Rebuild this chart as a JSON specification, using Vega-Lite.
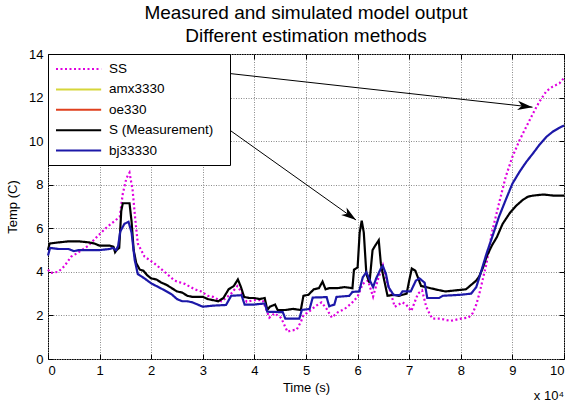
{
  "$schema": "https://vega.github.io/schema/vega-lite/v6.json",
  "width": 516,
  "height": 305,
  "autosize": {"type": "none"},
  "padding": {"left": 48, "top": 54, "right": 5, "bottom": 43},
  "background": "white",
  "title": {
    "text": ["Measured and simulated model output", "Different estimation methods"],
    "fontSize": 19,
    "font": "Liberation Sans",
    "fontWeight": "normal",
    "color": "black",
    "lineHeight": 22.6,
    "anchor": "middle",
    "baseline": "alphabetic",
    "offset": -13
  },
  "config": {
    "view": {"stroke": "black", "strokeWidth": 1},
    "axis": {
      "domain": false,
      "grid": true,
      "gridColor": "#8a8a8a",
      "gridDash": [1, 1.5],
      "gridWidth": 1,
      "tickColor": "black",
      "tickSize": -5,
      "labelFont": "Liberation Sans",
      "labelFontSize": 13,
      "labelColor": "black",
      "titleFont": "Liberation Sans",
      "titleFontSize": 13,
      "titleFontWeight": "normal",
      "titleColor": "black"
    },
    "legend": {
      "orient": "none",
      "legendX": 0,
      "legendY": 0,
      "strokeColor": "black",
      "fillColor": "white",
      "padding": 7,
      "cornerRadius": 0,
      "labelFont": "Liberation Sans",
      "labelFontSize": 13.5,
      "labelColor": "black",
      "labelOffset": 38,
      "symbolType": "M-1,0H5.45",
      "symbolSize": 196,
      "symbolStrokeWidth": 2,
      "symbolFillColor": "transparent",
      "rowPadding": 5.4,
      "labelLimit": 300,
      "titleOrient": "right",
      "titleFont": "Liberation Sans",
      "titleFontSize": 7,
      "titleColor": "white",
      "titlePadding": 3
    }
  },
  "datasets": {
    "lines": [
      {"s":"SS","t":0.0,"v":4.1},{"s":"SS","t":0.05,"v":3.95},{"s":"SS","t":0.2,"v":4.0},{"s":"SS","t":0.32,"v":4.27},{"s":"SS","t":0.45,"v":4.7},{"s":"SS","t":0.58,"v":4.88},{"s":"SS","t":0.77,"v":5.18},{"s":"SS","t":0.9,"v":5.49},{"s":"SS","t":1.03,"v":5.8},{"s":"SS","t":1.15,"v":6.07},{"s":"SS","t":1.29,"v":6.33},{"s":"SS","t":1.39,"v":6.53},{"s":"SS","t":1.45,"v":7.6},{"s":"SS","t":1.52,"v":8.3},{"s":"SS","t":1.58,"v":8.55},{"s":"SS","t":1.64,"v":7.75},{"s":"SS","t":1.69,"v":6.45},{"s":"SS","t":1.74,"v":5.3},{"s":"SS","t":1.87,"v":4.7},{"s":"SS","t":2.06,"v":4.39},{"s":"SS","t":2.26,"v":4.0},{"s":"SS","t":2.45,"v":3.6},{"s":"SS","t":2.65,"v":3.45},{"s":"SS","t":2.84,"v":3.2},{"s":"SS","t":2.97,"v":3.1},{"s":"SS","t":3.1,"v":2.9},{"s":"SS","t":3.2,"v":2.85},{"s":"SS","t":3.36,"v":2.65},{"s":"SS","t":3.45,"v":2.8},{"s":"SS","t":3.55,"v":3.0},{"s":"SS","t":3.67,"v":3.35},{"s":"SS","t":3.74,"v":3.1},{"s":"SS","t":3.85,"v":2.63},{"s":"SS","t":4.0,"v":2.7},{"s":"SS","t":4.16,"v":2.7},{"s":"SS","t":4.29,"v":1.9},{"s":"SS","t":4.39,"v":2.1},{"s":"SS","t":4.52,"v":1.88},{"s":"SS","t":4.64,"v":1.25},{"s":"SS","t":4.7,"v":1.3},{"s":"SS","t":4.82,"v":1.35},{"s":"SS","t":4.9,"v":1.7},{"s":"SS","t":4.95,"v":2.0},{"s":"SS","t":5.07,"v":2.2},{"s":"SS","t":5.2,"v":2.45},{"s":"SS","t":5.3,"v":2.6},{"s":"SS","t":5.4,"v":2.3},{"s":"SS","t":5.5,"v":1.9},{"s":"SS","t":5.62,"v":2.15},{"s":"SS","t":5.75,"v":2.3},{"s":"SS","t":5.88,"v":2.55},{"s":"SS","t":6.0,"v":2.86},{"s":"SS","t":6.1,"v":3.45},{"s":"SS","t":6.2,"v":3.6},{"s":"SS","t":6.3,"v":2.86},{"s":"SS","t":6.4,"v":3.7},{"s":"SS","t":6.49,"v":4.3},{"s":"SS","t":6.56,"v":3.6},{"s":"SS","t":6.62,"v":3.2},{"s":"SS","t":6.72,"v":2.4},{"s":"SS","t":6.87,"v":2.6},{"s":"SS","t":6.94,"v":2.5},{"s":"SS","t":7.04,"v":2.2},{"s":"SS","t":7.17,"v":3.0},{"s":"SS","t":7.25,"v":3.15},{"s":"SS","t":7.33,"v":2.4},{"s":"SS","t":7.39,"v":2.1},{"s":"SS","t":7.45,"v":1.85},{"s":"SS","t":7.6,"v":1.85},{"s":"SS","t":7.8,"v":1.75},{"s":"SS","t":8.0,"v":1.85},{"s":"SS","t":8.15,"v":1.9},{"s":"SS","t":8.23,"v":2.1},{"s":"SS","t":8.3,"v":2.5},{"s":"SS","t":8.36,"v":3.0},{"s":"SS","t":8.43,"v":3.7},{"s":"SS","t":8.5,"v":4.4},{"s":"SS","t":8.6,"v":5.77},{"s":"SS","t":8.74,"v":7.14},{"s":"SS","t":8.87,"v":8.36},{"s":"SS","t":9.0,"v":9.28},{"s":"SS","t":9.14,"v":10.05},{"s":"SS","t":9.27,"v":10.66},{"s":"SS","t":9.4,"v":11.27},{"s":"SS","t":9.52,"v":11.8},{"s":"SS","t":9.66,"v":12.3},{"s":"SS","t":9.78,"v":12.5},{"s":"SS","t":9.91,"v":12.65},{"s":"SS","t":10.0,"v":12.9},
      {"s":"S (Measurement)","t":0.0,"v":5.0},{"s":"S (Measurement)","t":0.03,"v":5.3},{"s":"S (Measurement)","t":0.2,"v":5.35},{"s":"S (Measurement)","t":0.4,"v":5.4},{"s":"S (Measurement)","t":0.6,"v":5.4},{"s":"S (Measurement)","t":0.8,"v":5.35},{"s":"S (Measurement)","t":0.9,"v":5.3},{"s":"S (Measurement)","t":1.0,"v":5.2},{"s":"S (Measurement)","t":1.2,"v":5.2},{"s":"S (Measurement)","t":1.27,"v":5.15},{"s":"S (Measurement)","t":1.3,"v":4.9},{"s":"S (Measurement)","t":1.33,"v":5.0},{"s":"S (Measurement)","t":1.38,"v":5.1},{"s":"S (Measurement)","t":1.42,"v":6.8},{"s":"S (Measurement)","t":1.45,"v":7.15},{"s":"S (Measurement)","t":1.58,"v":7.15},{"s":"S (Measurement)","t":1.62,"v":6.3},{"s":"S (Measurement)","t":1.66,"v":5.0},{"s":"S (Measurement)","t":1.71,"v":4.4},{"s":"S (Measurement)","t":1.78,"v":4.1},{"s":"S (Measurement)","t":1.85,"v":4.05},{"s":"S (Measurement)","t":1.92,"v":3.85},{"s":"S (Measurement)","t":2.0,"v":3.7},{"s":"S (Measurement)","t":2.1,"v":3.65},{"s":"S (Measurement)","t":2.2,"v":3.5},{"s":"S (Measurement)","t":2.3,"v":3.4},{"s":"S (Measurement)","t":2.4,"v":3.25},{"s":"S (Measurement)","t":2.5,"v":3.1},{"s":"S (Measurement)","t":2.6,"v":3.05},{"s":"S (Measurement)","t":2.7,"v":2.9},{"s":"S (Measurement)","t":2.8,"v":2.85},{"s":"S (Measurement)","t":3.0,"v":2.85},{"s":"S (Measurement)","t":3.1,"v":2.75},{"s":"S (Measurement)","t":3.2,"v":2.7},{"s":"S (Measurement)","t":3.3,"v":2.65},{"s":"S (Measurement)","t":3.4,"v":2.8},{"s":"S (Measurement)","t":3.5,"v":3.2},{"s":"S (Measurement)","t":3.6,"v":3.35},{"s":"S (Measurement)","t":3.68,"v":3.65},{"s":"S (Measurement)","t":3.74,"v":3.3},{"s":"S (Measurement)","t":3.8,"v":2.85},{"s":"S (Measurement)","t":3.9,"v":2.8},{"s":"S (Measurement)","t":4.0,"v":2.8},{"s":"S (Measurement)","t":4.1,"v":2.75},{"s":"S (Measurement)","t":4.2,"v":2.8},{"s":"S (Measurement)","t":4.25,"v":2.25},{"s":"S (Measurement)","t":4.3,"v":2.4},{"s":"S (Measurement)","t":4.4,"v":2.5},{"s":"S (Measurement)","t":4.45,"v":2.25},{"s":"S (Measurement)","t":4.6,"v":2.25},{"s":"S (Measurement)","t":4.75,"v":2.3},{"s":"S (Measurement)","t":4.9,"v":2.25},{"s":"S (Measurement)","t":4.95,"v":2.9},{"s":"S (Measurement)","t":5.05,"v":2.95},{"s":"S (Measurement)","t":5.15,"v":3.2},{"s":"S (Measurement)","t":5.25,"v":3.25},{"s":"S (Measurement)","t":5.32,"v":3.55},{"s":"S (Measurement)","t":5.38,"v":3.2},{"s":"S (Measurement)","t":5.45,"v":3.25},{"s":"S (Measurement)","t":5.6,"v":3.25},{"s":"S (Measurement)","t":5.75,"v":3.3},{"s":"S (Measurement)","t":5.9,"v":3.25},{"s":"S (Measurement)","t":5.93,"v":4.1},{"s":"S (Measurement)","t":6.0,"v":4.2},{"s":"S (Measurement)","t":6.04,"v":5.8},{"s":"S (Measurement)","t":6.08,"v":6.35},{"s":"S (Measurement)","t":6.12,"v":5.8},{"s":"S (Measurement)","t":6.17,"v":3.9},{"s":"S (Measurement)","t":6.23,"v":3.5},{"s":"S (Measurement)","t":6.29,"v":5.0},{"s":"S (Measurement)","t":6.34,"v":5.2},{"s":"S (Measurement)","t":6.41,"v":5.45},{"s":"S (Measurement)","t":6.45,"v":4.4},{"s":"S (Measurement)","t":6.49,"v":3.9},{"s":"S (Measurement)","t":6.58,"v":2.9},{"s":"S (Measurement)","t":6.7,"v":2.95},{"s":"S (Measurement)","t":6.8,"v":2.9},{"s":"S (Measurement)","t":6.95,"v":3.0},{"s":"S (Measurement)","t":7.0,"v":3.6},{"s":"S (Measurement)","t":7.05,"v":4.15},{"s":"S (Measurement)","t":7.12,"v":4.05},{"s":"S (Measurement)","t":7.23,"v":3.35},{"s":"S (Measurement)","t":7.33,"v":3.3},{"s":"S (Measurement)","t":7.5,"v":3.2},{"s":"S (Measurement)","t":7.7,"v":3.1},{"s":"S (Measurement)","t":7.9,"v":3.15},{"s":"S (Measurement)","t":8.1,"v":3.2},{"s":"S (Measurement)","t":8.2,"v":3.4},{"s":"S (Measurement)","t":8.3,"v":3.6},{"s":"S (Measurement)","t":8.36,"v":3.8},{"s":"S (Measurement)","t":8.43,"v":4.2},{"s":"S (Measurement)","t":8.5,"v":4.7},{"s":"S (Measurement)","t":8.6,"v":5.2},{"s":"S (Measurement)","t":8.7,"v":5.6},{"s":"S (Measurement)","t":8.81,"v":6.2},{"s":"S (Measurement)","t":8.95,"v":6.7},{"s":"S (Measurement)","t":9.08,"v":7.05},{"s":"S (Measurement)","t":9.2,"v":7.3},{"s":"S (Measurement)","t":9.3,"v":7.45},{"s":"S (Measurement)","t":9.4,"v":7.5},{"s":"S (Measurement)","t":9.6,"v":7.55},{"s":"S (Measurement)","t":9.8,"v":7.5},{"s":"S (Measurement)","t":10.0,"v":7.5},
      {"s":"bj33330","t":0.0,"v":4.75},{"s":"bj33330","t":0.04,"v":5.1},{"s":"bj33330","t":0.2,"v":5.05},{"s":"bj33330","t":0.4,"v":5.05},{"s":"bj33330","t":0.5,"v":4.95},{"s":"bj33330","t":0.6,"v":5.0},{"s":"bj33330","t":0.8,"v":5.0},{"s":"bj33330","t":1.0,"v":5.0},{"s":"bj33330","t":1.2,"v":5.05},{"s":"bj33330","t":1.25,"v":5.1},{"s":"bj33330","t":1.32,"v":5.0},{"s":"bj33330","t":1.36,"v":5.2},{"s":"bj33330","t":1.4,"v":5.85},{"s":"bj33330","t":1.48,"v":6.2},{"s":"bj33330","t":1.56,"v":6.3},{"s":"bj33330","t":1.62,"v":5.8},{"s":"bj33330","t":1.68,"v":4.55},{"s":"bj33330","t":1.74,"v":3.9},{"s":"bj33330","t":1.87,"v":3.7},{"s":"bj33330","t":2.0,"v":3.47},{"s":"bj33330","t":2.1,"v":3.35},{"s":"bj33330","t":2.19,"v":3.24},{"s":"bj33330","t":2.3,"v":3.1},{"s":"bj33330","t":2.39,"v":2.98},{"s":"bj33330","t":2.5,"v":2.75},{"s":"bj33330","t":2.6,"v":2.65},{"s":"bj33330","t":2.7,"v":2.65},{"s":"bj33330","t":2.8,"v":2.6},{"s":"bj33330","t":2.9,"v":2.5},{"s":"bj33330","t":3.0,"v":2.4},{"s":"bj33330","t":3.2,"v":2.45},{"s":"bj33330","t":3.45,"v":2.48},{"s":"bj33330","t":3.55,"v":2.9},{"s":"bj33330","t":3.75,"v":2.93},{"s":"bj33330","t":3.81,"v":2.5},{"s":"bj33330","t":4.0,"v":2.5},{"s":"bj33330","t":4.2,"v":2.55},{"s":"bj33330","t":4.25,"v":2.17},{"s":"bj33330","t":4.55,"v":2.15},{"s":"bj33330","t":4.6,"v":1.85},{"s":"bj33330","t":4.87,"v":1.85},{"s":"bj33330","t":4.92,"v":2.25},{"s":"bj33330","t":5.07,"v":2.3},{"s":"bj33330","t":5.13,"v":2.82},{"s":"bj33330","t":5.4,"v":2.84},{"s":"bj33330","t":5.45,"v":2.42},{"s":"bj33330","t":5.55,"v":2.5},{"s":"bj33330","t":5.59,"v":2.85},{"s":"bj33330","t":5.84,"v":2.9},{"s":"bj33330","t":5.9,"v":3.08},{"s":"bj33330","t":6.03,"v":3.1},{"s":"bj33330","t":6.1,"v":3.75},{"s":"bj33330","t":6.17,"v":3.98},{"s":"bj33330","t":6.25,"v":3.55},{"s":"bj33330","t":6.3,"v":3.3},{"s":"bj33330","t":6.36,"v":3.7},{"s":"bj33330","t":6.45,"v":4.15},{"s":"bj33330","t":6.49,"v":4.27},{"s":"bj33330","t":6.55,"v":3.9},{"s":"bj33330","t":6.6,"v":3.3},{"s":"bj33330","t":6.7,"v":2.93},{"s":"bj33330","t":6.82,"v":2.93},{"s":"bj33330","t":6.87,"v":3.1},{"s":"bj33330","t":7.03,"v":3.1},{"s":"bj33330","t":7.13,"v":3.6},{"s":"bj33330","t":7.2,"v":3.7},{"s":"bj33330","t":7.3,"v":3.5},{"s":"bj33330","t":7.35,"v":2.8},{"s":"bj33330","t":7.58,"v":2.8},{"s":"bj33330","t":7.65,"v":2.9},{"s":"bj33330","t":8.0,"v":2.95},{"s":"bj33330","t":8.2,"v":3.0},{"s":"bj33330","t":8.3,"v":3.3},{"s":"bj33330","t":8.36,"v":3.75},{"s":"bj33330","t":8.43,"v":4.3},{"s":"bj33330","t":8.5,"v":4.85},{"s":"bj33330","t":8.6,"v":5.54},{"s":"bj33330","t":8.74,"v":6.53},{"s":"bj33330","t":8.87,"v":7.3},{"s":"bj33330","t":9.0,"v":8.05},{"s":"bj33330","t":9.14,"v":8.6},{"s":"bj33330","t":9.27,"v":9.05},{"s":"bj33330","t":9.4,"v":9.44},{"s":"bj33330","t":9.52,"v":9.82},{"s":"bj33330","t":9.66,"v":10.2},{"s":"bj33330","t":9.78,"v":10.43},{"s":"bj33330","t":9.9,"v":10.6},{"s":"bj33330","t":10.0,"v":10.72}
    ],
    "arrows": [
      {"name": "ss", "x1": 1.9, "y1": 13.53, "x2": 9.39, "y2": 11.56},
      {"name": "meas", "x1": 3.39, "y1": 10.73, "x2": 5.97, "y2": 6.38}
    ]
  },
  "layer": [
    {
      "data": {"name": "lines"},
      "mark": {"type": "line", "strokeWidth": 2.2, "interpolate": "linear"},
      "encoding": {
        "x": {
          "field": "t", "type": "quantitative",
          "scale": {"domain": [0, 10], "nice": false, "zero": false},
          "axis": {"orient": "bottom", "title": "Time (s)", "values": [0,1,2,3,4,5,6,7,8,9,10], "format": "d", "labelPadding": 10, "titlePadding": 4}
        },
        "y": {
          "field": "v", "type": "quantitative",
          "scale": {"domain": [0, 14], "nice": false, "zero": false},
          "axis": {"orient": "left", "title": "Temp (C)", "values": [0,2,4,6,8,10,12,14], "format": "d", "labelPadding": 10, "titlePadding": 9}
        },
        "color": {
          "field": "s", "type": "nominal",
          "scale": {"domain": ["SS", "amx3330", "oe330", "S (Measurement)", "bj33330"], "range": ["#e000e0", "#d6d63a", "#e0401e", "#000000", "#1c18a8"]},
          "legend": {"title": "\u2014"}
        },
        "strokeDash": {
          "field": "s", "type": "nominal",
          "scale": {"domain": ["SS", "amx3330", "oe330", "S (Measurement)", "bj33330"], "range": [[2, 2.5], [1, 0], [1, 0], [1, 0], [1, 0]]},
          "legend": {"title": "\u2014"}
        }
      }
    },
    {
      "data": {"name": "arrows"},
      "mark": {"type": "rule", "color": "black", "strokeWidth": 1},
      "encoding": {
        "x": {"field": "x1", "type": "quantitative", "axis": {"orient": "top", "labels": false, "title": null, "grid": false, "values": [0,1,2,3,4,5,6,7,8,9,10]}},
        "y": {"field": "y1", "type": "quantitative", "axis": {"orient": "right", "labels": false, "title": null, "grid": false, "values": [0,2,4,6,8,10,12,14]}},
        "x2": {"field": "x2"},
        "y2": {"field": "y2"}
      }
    },
    {
      "data": {"name": "arrows"},
      "transform": [{"filter": {"field": "name", "equal": "ss"}}],
      "mark": {"type": "point", "shape": "M0,0L-2,-0.62L-1.45,0L-2,0.62Z", "size": 225, "filled": true, "color": "black", "opacity": 1, "angle": 6.4},
      "encoding": {"x": {"field": "x2", "type": "quantitative", "axis": null}, "y": {"field": "y2", "type": "quantitative", "axis": null}}
    },
    {
      "data": {"name": "arrows"},
      "transform": [{"filter": {"field": "name", "equal": "meas"}}],
      "mark": {"type": "point", "shape": "M0,0L-2,-0.62L-1.45,0L-2,0.62Z", "size": 225, "filled": true, "color": "black", "opacity": 1, "angle": 35.5},
      "encoding": {"x": {"field": "x2", "type": "quantitative", "axis": null}, "y": {"field": "y2", "type": "quantitative", "axis": null}}
    },
    {
      "data": {"values": [{"label": "x 10\u2074"}]},
      "mark": {"type": "text", "align": "right", "baseline": "alphabetic", "font": "Liberation Sans", "fontSize": 13, "color": "black"},
      "encoding": {"x": {"datum": 10, "type": "quantitative", "axis": null}, "y": {"datum": -1.88, "type": "quantitative", "axis": null}, "text": {"field": "label"}}
    }
  ],
  "resolve": {"axis": {"x": "independent", "y": "independent"}}
}
